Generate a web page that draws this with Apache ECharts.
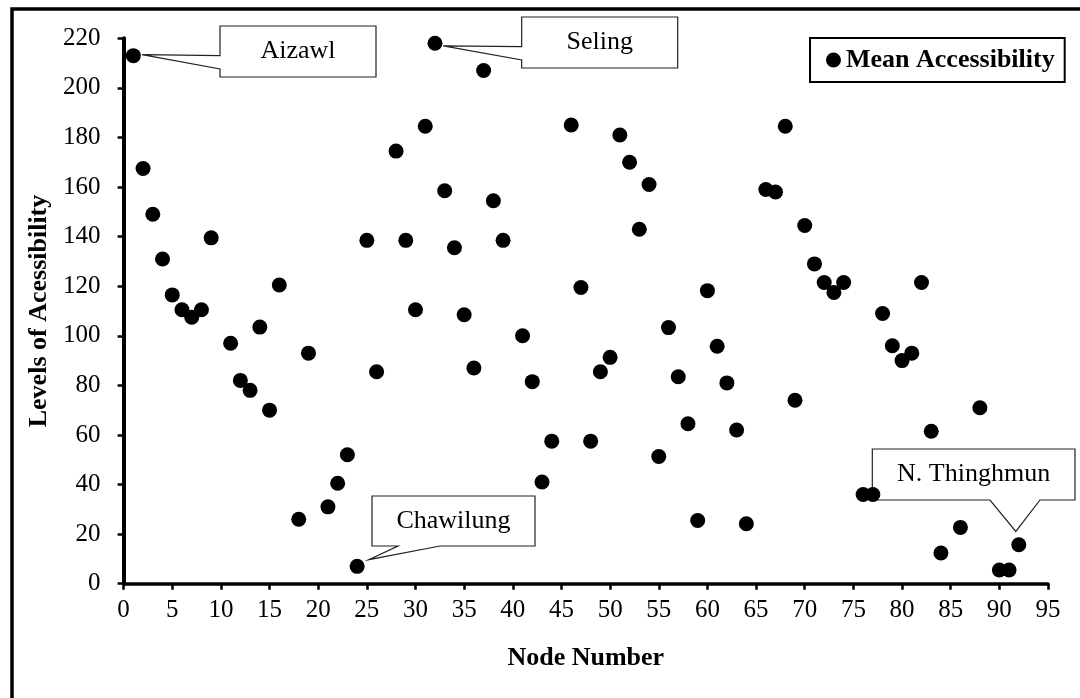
<!DOCTYPE html>
<html>
<head>
<meta charset="utf-8">
<script src="https://cdn.jsdelivr.net/npm/echarts@6/dist/echarts.min.js"></script>
<style>
  html, body { margin: 0; padding: 0; background: #fff; }
  #chart { width: 1080px; height: 698px; }
</style>
</head>
<body>
<div id="chart"></div>
<script>
// Node numbers and their mean accessibility levels
const nodes = [
  1, 2, 3, 4, 5, 6, 7, 8, 9, 11, 12, 13, 14, 15, 16, 18, 19, 21, 22, 23, 24, 25, 26, 28, 29,
  30, 31, 32, 33, 34, 35, 36, 37, 38, 39, 41, 42, 43, 44, 46, 47, 48, 49, 50, 51, 52, 53, 54,
  55, 56, 57, 58, 59, 60, 61, 62, 63, 64, 66, 67, 68, 69, 70, 71, 72, 73, 74, 76, 77, 78, 79,
  80, 81, 82, 83, 84, 86, 88, 90, 91, 92
];
const accessibility = [
  213, 167.5, 149, 131, 116.5, 110.5, 107.5, 110.5, 139.5, 97, 82, 78, 103.5, 70, 120.5, 26, 93, 31, 40.5, 52, 7, 138.5, 85.5, 174.5, 138.5,
  110.5, 184.5, 218, 158.5, 135.5, 108.5, 87, 207, 154.5, 138.5, 100, 81.5, 41, 57.5, 185, 119.5, 57.5, 85.5, 91.3, 181, 170, 143, 161,
  51.3, 103.3, 83.5, 64.5, 25.5, 118.2, 95.8, 81, 62, 24.2, 159, 158, 184.5, 74, 144.5, 129, 121.5, 117.5, 121.5, 36, 36, 109, 96,
  90, 93, 121.5, 61.5, 12.4, 22.7, 71, 5.5, 5.5, 15.7
];
const xTicks = { min: 0, max: 95, step: 5 };
const yTicks = { min: 0, max: 220, step: 20 };

// Named places called out on the chart
const placeNames = ['Aizawl', 'Seling', 'Chawilung', 'N. Thinghmun'];
const placeNodes = [1, 32, 24, 92];

const FONT = '"Liberation Serif", "Times New Roman", serif';

const chart = echarts.init(document.getElementById('chart'), null, { renderer: 'canvas' });

chart.setOption({
  animation: false,
  backgroundColor: '#ffffff',
  grid: { left: 123.6, right: 32, top: 38.3, bottom: 114.3, containLabel: false },
  legend: {
    data: ['Mean Accessibility'],
    left: 810,
    top: 38,
    orient: 'horizontal',
    padding: [9, 10, 9, 16],
    borderColor: '#000',
    borderWidth: 2,
    backgroundColor: '#fff',
    itemWidth: 15,
    itemHeight: 15,
    icon: 'circle',
    itemStyle: { color: '#000', opacity: 1 },
    textStyle: { fontFamily: FONT, fontSize: 26, fontWeight: 'bold', color: '#000' }
  },
  xAxis: {
    type: 'value',
    min: xTicks.min,
    max: xTicks.max,
    interval: xTicks.step,
    name: 'Node Number',
    nameLocation: 'middle',
    nameGap: 62,
    nameTextStyle: { fontFamily: FONT, fontSize: 26, fontWeight: 'bold', color: '#000' },
    axisLine: { onZero: false, lineStyle: { color: '#000', width: 3.5 } },
    axisTick: { inside: false, length: 6, lineStyle: { color: '#000', width: 2.5 } },
    axisLabel: { fontFamily: FONT, fontSize: 25, color: '#000', margin: 14 },
    splitLine: { show: false }
  },
  yAxis: {
    type: 'value',
    min: yTicks.min,
    max: yTicks.max,
    interval: yTicks.step,
    name: 'Levels of Acessibility',
    nameLocation: 'middle',
    nameRotate: 90,
    nameGap: 70,
    nameTextStyle: { fontFamily: FONT, fontSize: 26, fontWeight: 'bold', color: '#000' },
    axisLine: { show: true, lineStyle: { color: '#000', width: 4 } },
    axisTick: { show: true, inside: false, length: 6, lineStyle: { color: '#000', width: 2.5 } },
    axisLabel: { fontFamily: FONT, fontSize: 25, color: '#000', margin: 23 },
    splitLine: { show: false }
  },
  series: [{
    name: 'Mean Accessibility',
    type: 'scatter',
    z: 5,
    symbol: 'circle',
    symbolSize: 15,
    itemStyle: { color: '#000', opacity: 1 },
    emphasis: { disabled: true },
    data: nodes.map((n, i) => [n, accessibility[i]])
  }]
});

// Callout boxes: box rectangle, which side the pointer leaves from,
// where the pointer base sits on that side, and how far the tip stops from the dot.
const callouts = [
  { box: [220, 26, 376, 77], side: 'left', base: [55.7, 69], tipOffset: [8.7, -1] },
  { box: [521.7, 17, 677.7, 68], side: 'left', base: [46.7, 60], tipOffset: [8.3, 2.7] },
  { box: [372, 496, 535, 546], side: 'bottom', base: [398, 440], tipOffset: [11.6, -6.7] },
  { box: [872.3, 449, 1075, 500], side: 'bottom', base: [990, 1040], tipOffset: [-3, -13.3] }
];

function valueAtNode(node) {
  return accessibility[nodes.indexOf(node)];
}

const graphics = [
  // outer frame of the figure
  {
    type: 'rect', z: 0, silent: true,
    shape: { x: 12, y: 9, width: 1200, height: 1000 },
    style: { fill: 'none', stroke: '#000', lineWidth: 3.5 }
  }
];

placeNames.forEach((label, i) => {
  const node = placeNodes[i];
  const c = callouts[i];
  const p = chart.convertToPixel({ seriesIndex: 0 }, [node, valueAtNode(node)]);
  const tip = [p[0] + c.tipOffset[0], p[1] + c.tipOffset[1]];
  const [x0, y0, x1, y1] = c.box;
  let pts;
  if (c.side === 'left') {
    pts = [[x0, y0], [x1, y0], [x1, y1], [x0, y1], [x0, c.base[1]], tip, [x0, c.base[0]]];
  } else {
    pts = [[x0, y0], [x1, y0], [x1, y1], [c.base[1], y1], tip, [c.base[0], y1], [x0, y1]];
  }
  graphics.push({
    type: 'polygon', z: 1, silent: true,
    shape: { points: pts },
    style: { fill: '#fff', stroke: '#222', lineWidth: 1.2 }
  });
  graphics.push({
    type: 'text', z: 2, silent: true,
    x: (x0 + x1) / 2,
    y: (y0 + y1) / 2,
    style: {
      text: label,
      font: '26px ' + FONT,
      fill: '#000',
      align: 'center',
      verticalAlign: 'middle'
    }
  });
});

chart.setOption({ graphic: graphics });
</script>
</body>
</html>
